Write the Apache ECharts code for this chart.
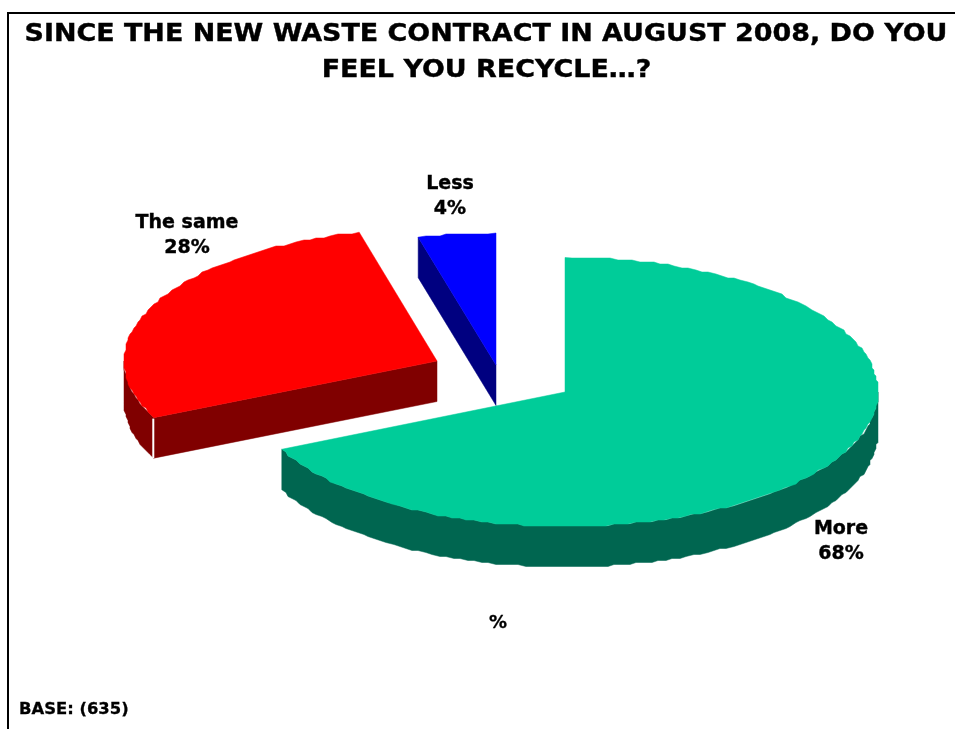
<!DOCTYPE html>
<html><head><meta charset="utf-8">
<style>html,body{margin:0;padding:0;background:#fff}#c{width:955px;height:729px}</style>
<script src="https://cdn.jsdelivr.net/npm/echarts@6/dist/echarts.min.js"></script>
</head><body><div id="c"></div>
<script>
const categories = ['More', 'The same', 'Less'];
const shares = [68, 28, 4];
const titleLines = ['SINCE THE NEW WASTE CONTRACT IN AUGUST 2008, DO YOU', 'FEEL YOU RECYCLE…?'];
const footnote = 'BASE: (635)';
const unitNote = '%';

const topColors = ['#00CC99', '#FF0000', '#0000FF'];
const sideColors = ['#006650', '#800000', '#000080'];
const apexX = [565, 437, 496];
const apexY = [392, 361, 365];
const radiusY = [134.5, 133, 132];
const labelX = [841, 187, 450];
const labelY = [542, 236, 197];
const RX = 313, DEPTH = 40.5;

const total = shares.reduce((a, b) => a + b, 0);
const startShare = shares.map((_, i) => shares.slice(0, i).reduce((a, b) => a + b, 0));
const angleOf = s => s / total * 2 * Math.PI;

function snap(v, g) { return Math.round(v / g) * g; }
function arc(i, a0, a1) {
  const n = Math.max(2, Math.ceil((a1 - a0) / 0.024));
  const out = [];
  for (let k = 0; k <= n; k++) {
    const a = a0 + (a1 - a0) * k / n;
    const x = apexX[i] + RX * Math.sin(a), y = apexY[i] - radiusY[i] * Math.cos(a);
    out.push(k === 0 || k === n ? [x, y] : [snap(x, 2), snap(y, 2)]);
  }
  return out;
}
const poly = (points, fill) => ({ type: 'polygon', shape: { points }, style: { fill, stroke: fill, lineWidth: 0.5 } });

function renderItem(params, api) {
  const i = params.dataIndex;
  const a0 = angleOf(startShare[i]);
  const a1 = a0 + angleOf(api.value(0));
  const apex = [apexX[i], apexY[i]];
  const down = p => [p[0], p[1] + DEPTH];
  const children = [];
  const rimFrom = Math.max(a0, Math.PI / 2), rimTo = Math.min(a1, 1.5 * Math.PI);
  if (rimTo > rimFrom) {
    const top = arc(i, rimFrom, rimTo);
    children.push(poly(top.concat(top.slice().reverse().map(down)), sideColors[i]));
  }
  const startPt = [apexX[i] + RX * Math.sin(a0), apexY[i] - radiusY[i] * Math.cos(a0)];
  if (a0 > Math.PI) {
    children.push(poly([apex, startPt, down(startPt), down(apex)], sideColors[i]));
  }
  if (a0 > Math.PI && a0 < 1.5 * Math.PI) {
    children.push({ type: 'line', shape: { x1: startPt[0] - 0.5, y1: startPt[1] + 1, x2: startPt[0] - 0.5, y2: startPt[1] + DEPTH }, style: { stroke: '#fff', lineWidth: 2 } });
  }
  children.push(poly([apex].concat(arc(i, a0, a1)), topColors[i]));
  children.push({
    type: 'text', x: labelX[i], y: labelY[i],
    style: { text: categories[i] + '\n' + api.value(0) + '%', fill: '#000', stroke: '#000', lineWidth: 0.4,
      align: 'center', verticalAlign: 'middle', font: 'bold 19px "DejaVu Sans"', lineHeight: 25 }
  });
  return { type: 'group', children };
}

const titleStyle = { fill: '#000', stroke: '#000', lineWidth: 0.4, align: 'center', verticalAlign: 'middle', font: 'bold 25px "DejaVu Sans"' };
const chart = echarts.init(document.getElementById('c'));
chart.setOption({
  backgroundColor: '#fff',
  animation: false,
  graphic: [
    { type: 'rect', shape: { x: 7, y: 12, width: 948, height: 2 }, style: { fill: '#000' } },
    { type: 'rect', shape: { x: 7, y: 12, width: 2, height: 717 }, style: { fill: '#000' } },
    { type: 'text', x: 486, y: 34, scaleX: 1.077, style: Object.assign({ text: titleLines[0] }, titleStyle) },
    { type: 'text', x: 486.5, y: 70, scaleX: 1.077, style: Object.assign({ text: titleLines[1] }, titleStyle) },
    { type: 'text', x: 498, y: 623, style: { text: unitNote, fill: '#000', stroke: '#000', lineWidth: 0.3, align: 'center', verticalAlign: 'middle', font: 'bold 18px "DejaVu Sans"' } },
    { type: 'text', x: 19, y: 710, style: { text: footnote, fill: '#000', stroke: '#000', lineWidth: 0.3, align: 'left', verticalAlign: 'middle', font: 'bold 16.4px "DejaVu Sans"' } }
  ],
  series: [{ type: 'custom', coordinateSystem: 'none', renderItem, data: shares.map(v => [v]), z: 2 }]
});
</script></body></html>
